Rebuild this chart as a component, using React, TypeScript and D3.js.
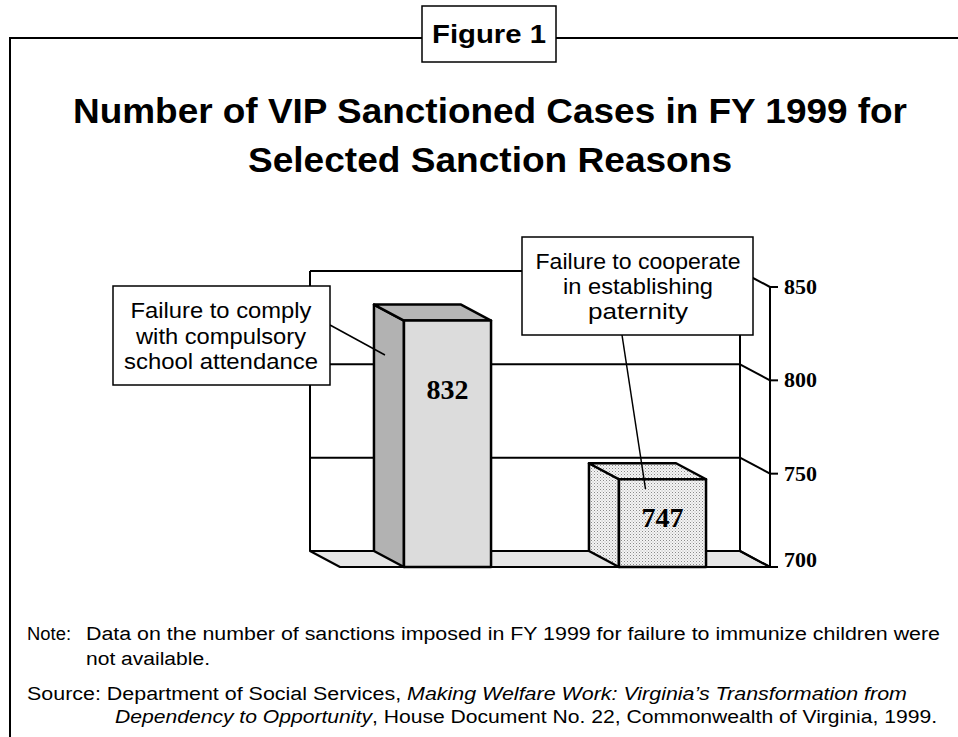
import React from "react";
import * as d3 from "d3";

const categories = ["Failure to comply with compulsory school attendance", "Failure to cooperate in establishing paternity"];
const values = [832, 747];
const valueLabels = ["832", "747"];
const tickValues = [700, 750, 800, 850];
const labelLines = [
  ["Failure to comply", "with compulsory", "school attendance"],
  ["Failure to cooperate", "in establishing", "paternity"],
];
const titleLines = ["Number of VIP Sanctioned Cases in FY 1999 for", "Selected Sanction Reasons"];
const noteLines = [
  "Data on the number of sanctions imposed in FY 1999 for failure to immunize children were",
  "not available.",
];

const W = 958;
const H = 737;
const DX = -30;
const DY = -16;

export default function App() {
  const y = d3.scaleLinear().domain([700, 850]).range([567, 287]);
  const x = d3.scaleBand<string>().domain(categories).range([340, 770]).padding(0);
  const bw = x.bandwidth() * 0.405;
  const left = 340 + DX;
  const right = 770 + DX;
  const base = y(700);
  const sans = "'Liberation Sans', Arial, sans-serif";
  const serif = "'Liberation Serif', 'Times New Roman', serif";

  const bars = categories.map((c, i) => {
    const cx = (x(c) as number) + x.bandwidth() / 2;
    const x0 = cx - bw / 2;
    const x1 = cx + bw / 2;
    const yt = y(values[i]);
    return { cx, x0, x1, yt };
  });

  const fills = [
    { front: "#dcdcdc", side: "#b2b2b2", top: "#b6b6b6" },
    { front: "url(#dots)", side: "url(#dots)", top: "url(#dots)" },
  ];

  const poly = (pts: [number, number][]) => pts.map((p) => p.join(",")).join(" ");
  const label1W = [181, 170, 194];
  const label2W = [205, 150, 100];

  return (
    <svg width={W} height={H} style={{ position: "absolute", left: 0, top: 0, background: "#fff" }}>
      <defs>
        <pattern id="dots" width="3" height="3" patternUnits="userSpaceOnUse">
          <rect width="3" height="3" fill="#f4f4f4" />
          <rect x="0" y="0" width="1" height="1" fill="#8a8a8a" />
          <rect x="1.5" y="1.5" width="1" height="1" fill="#b0b0b0" />
        </pattern>
      </defs>
      {/* outer frame */}
      <path d={`M10,737 L10,38 L958,38`} fill="none" stroke="#000" strokeWidth={2} />
      <rect x={422} y={6} width={134} height={56} fill="#fff" stroke="#000" strokeWidth={1.5} />
      <text x={489} y={43} textAnchor="middle" fontFamily={sans} fontWeight="bold" fontSize={26} textLength={114} lengthAdjust="spacingAndGlyphs">Figure 1</text>

      {/* title */}
      {titleLines.map((t, i) => (
        <text key={i} x={490} y={123 + i * 49} textAnchor="middle" fontFamily={sans} fontWeight="bold" fontSize={35}
          textLength={i === 0 ? 834 : 484} lengthAdjust="spacingAndGlyphs">{t}</text>
      ))}

      {/* back wall */}
      <g stroke="#000" strokeWidth={2} fill="none">
        <line x1={left} x2={left} y1={y(850) + DY} y2={base + DY} />
        <line x1={right} x2={right} y1={y(850) + DY} y2={base + DY} />
        {tickValues.map((t) => (
          <line key={t} x1={left} x2={right} y1={y(t) + DY} y2={y(t) + DY} />
        ))}
      </g>
      {/* floor */}
      <polygon
        points={poly([[left, base + DY], [right, base + DY], [770, base], [340, base]])}
        fill="#e6e6e6" stroke="#000" strokeWidth={2} strokeLinejoin="round"
      />
      {/* right side diagonals & axis */}
      <g stroke="#000" strokeWidth={2} fill="none">
        {tickValues.map((t) => (
          <line key={t} x1={right} y1={y(t) + DY} x2={770} y2={y(t)} />
        ))}
        <line x1={770} x2={770} y1={y(850)} y2={base} />
        {tickValues.map((t) => (
          <line key={"t" + t} x1={770} x2={778} y1={y(t)} y2={y(t)} />
        ))}
      </g>
      {tickValues.map((t) => (
        <text key={t} x={784} y={y(t) + (t === 700 ? 0 : 7)} fontFamily={serif} fontWeight="bold" fontSize={22}>{t}</text>
      ))}

      {/* bars */}
      {bars.map((b, i) => (
        <g key={i} stroke="#000" strokeWidth={2.5} strokeLinejoin="round">
          <polygon points={poly([[b.x0 + DX, b.yt + DY], [b.x0, b.yt], [b.x0, base], [b.x0 + DX, base + DY]])} fill={fills[i].side} />
          <polygon points={poly([[b.x0 + DX, b.yt + DY], [b.x1 + DX, b.yt + DY], [b.x1, b.yt], [b.x0, b.yt]])} fill={fills[i].top} />
          <rect x={b.x0} y={b.yt} width={b.x1 - b.x0} height={base - b.yt} fill={fills[i].front} />
        </g>
      ))}
      {bars.map((b, i) => (
        <text key={i} x={b.cx} y={i === 0 ? 399 : 527} textAnchor="middle" fontFamily={serif} fontWeight="bold" fontSize={28}>{valueLabels[i]}</text>
      ))}

      {/* leader lines */}
      <g stroke="#000" strokeWidth={1.5}>
        <line x1={330} y1={325} x2={bars[0].x0 - 19} y2={355} />
        <line x1={622} y1={335} x2={bars[1].cx - 17} y2={489} />
      </g>

      {/* label boxes */}
      <rect x={113} y={286} width={217} height={99} fill="#fff" stroke="#000" strokeWidth={1.5} />
      {labelLines[0].map((t, i) => (
        <text key={i} x={221} y={318 + i * 25.5} textAnchor="middle" fontFamily={sans} fontSize={22}
          textLength={label1W[i]} lengthAdjust="spacingAndGlyphs">{t}</text>
      ))}
      <rect x={522} y={237} width={231} height={98} fill="#fff" stroke="#000" strokeWidth={1.5} />
      {labelLines[1].map((t, i) => (
        <text key={i} x={638} y={269 + i * 25} textAnchor="middle" fontFamily={sans} fontSize={22}
          textLength={label2W[i]} lengthAdjust="spacingAndGlyphs">{t}</text>
      ))}

      {/* notes */}
      <g fontFamily={sans} fontSize={18}>
        <text x={27} y={640} textLength={44} lengthAdjust="spacingAndGlyphs">Note:</text>
        <text x={86} y={640} textLength={854} lengthAdjust="spacingAndGlyphs">{noteLines[0]}</text>
        <text x={86} y={665} textLength={124} lengthAdjust="spacingAndGlyphs">{noteLines[1]}</text>
        <text x={27} y={700} textLength={880} lengthAdjust="spacingAndGlyphs">
          Source: Department of Social Services, <tspan fontStyle="italic">Making Welfare Work: Virginia’s Transformation from</tspan>
        </text>
        <text x={115} y={723} textLength={822} lengthAdjust="spacingAndGlyphs">
          <tspan fontStyle="italic">Dependency to Opportunity</tspan>, House Document No. 22, Commonwealth of Virginia, 1999.
        </text>
      </g>
    </svg>
  );
}
